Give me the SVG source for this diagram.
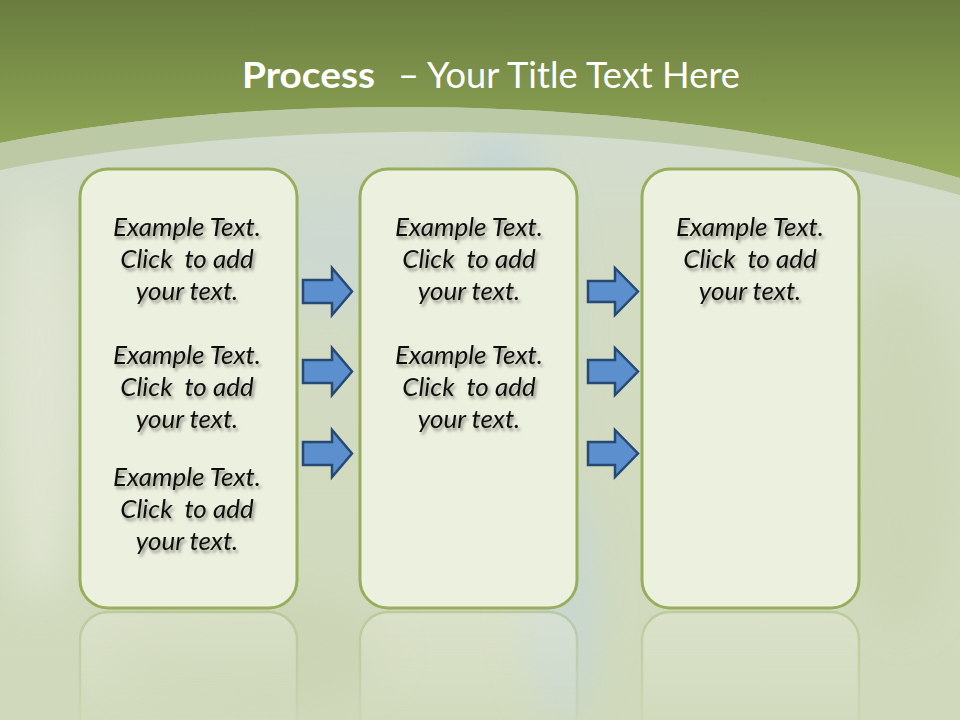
<svg xmlns="http://www.w3.org/2000/svg" width="960" height="720" viewBox="0 0 960 720">
  <defs>
    <linearGradient id="topGreen" x1="0" y1="0" x2="0" y2="1">
      <stop offset="0" stop-color="#6a7d3f"/>
      <stop offset="1" stop-color="#9ab25c"/>
    </linearGradient>
    <linearGradient id="bodyBg" x1="0" y1="0" x2="0" y2="1">
      <stop offset="0" stop-color="#d2dcd6"/>
      <stop offset="0.4" stop-color="#d3dbc3"/>
      <stop offset="1" stop-color="#d0d9bb"/>
    </linearGradient>
    <linearGradient id="fadeGrad" x1="0" y1="0" x2="0" y2="1">
      <stop offset="0" stop-color="#fff" stop-opacity="0.9"/>
      <stop offset="1" stop-color="#fff" stop-opacity="0.15"/>
    </linearGradient>
    <mask id="fadeMask" maskUnits="userSpaceOnUse" x="0" y="600" width="960" height="120">
      <rect x="0" y="600" width="960" height="120" fill="url(#fadeGrad)"/>
    </mask>
    <filter id="blur" x="-50%" y="-50%" width="200%" height="200%">
      <feGaussianBlur stdDeviation="18"/>
    </filter>
    <filter id="shadow" x="-20%" y="-20%" width="140%" height="160%">
      <feDropShadow dx="2" dy="3" stdDeviation="1.6" flood-color="#4a4a3a" flood-opacity="0.55"/>
    </filter>
    <style>
      .box { fill: #ecf0df; stroke: #98ae5c; stroke-width: 3; }
      .refl { fill: #e4e9d6; stroke: #a9bb7c; stroke-width: 2.5; }
      .arrow { fill: #5b8fce; stroke: #264a74; stroke-width: 2.5; stroke-linejoin: miter; }
      .txt { font-family: Lato, "Open Sans", "DejaVu Sans", sans-serif; font-style: italic; font-size: 26px; fill: #111; text-anchor: middle; white-space: pre; }
      .title { font-family: Lato, "Open Sans", "DejaVu Sans", sans-serif; font-size: 36px; fill: #ffffff; }
    </style>
  </defs>

  <!-- background -->
  <rect x="0" y="0" width="960" height="720" fill="url(#bodyBg)"/>
  <g filter="url(#blur)" opacity="0.55">
    <ellipse cx="500" cy="330" rx="70" ry="200" fill="#bcd0dc"/>
    <ellipse cx="560" cy="600" rx="40" ry="120" fill="#c2d4de"/>
    <ellipse cx="330" cy="250" rx="90" ry="60" fill="#c9d7d9"/>
    <ellipse cx="40" cy="400" rx="40" ry="200" fill="#e8ecdf"/>
    <ellipse cx="900" cy="450" rx="60" ry="180" fill="#c9d3b0"/>
    <ellipse cx="250" cy="650" rx="140" ry="60" fill="#c8d2b0"/>
  </g>

  <!-- top green header with arc -->
  <path d="M0,0 H960 V200 L960,178 C650,88 250,92 0,143 Z" fill="url(#topGreen)"/>
  <path d="M0,143 C250,92 650,88 960,178 L960,195 C650,110 250,120 0,170 Z" fill="#b7c59c" opacity="0.85"/>

  <!-- title -->
  <text class="title" x="242" y="88" font-weight="bold" textLength="133" lengthAdjust="spacingAndGlyphs">Process</text>
  <text class="title" x="398" y="88" textLength="342" lengthAdjust="spacingAndGlyphs">– Your Title Text Here</text>

  <!-- reflections -->
  <g mask="url(#fadeMask)" opacity="0.6">
    <rect class="refl" x="80" y="612" width="217" height="300" rx="28"/>
    <rect class="refl" x="360" y="612" width="217" height="300" rx="28"/>
    <rect class="refl" x="642" y="612" width="217" height="300" rx="28"/>
  </g>

  <!-- nodes -->
  <g id="node1">
    <rect class="box" x="80" y="169" width="217" height="439" rx="28"/>
    <g filter="url(#shadow)">
      <text class="txt" x="187" y="236">Example Text.</text>
      <text class="txt" x="187" y="268">Click  to add</text>
      <text class="txt" x="187" y="300">your text.</text>
      <text class="txt" x="187" y="364">Example Text.</text>
      <text class="txt" x="187" y="396">Click  to add</text>
      <text class="txt" x="187" y="428">your text.</text>
      <text class="txt" x="187" y="486">Example Text.</text>
      <text class="txt" x="187" y="518">Click  to add</text>
      <text class="txt" x="187" y="550">your text.</text>
    </g>
  </g>
  <g id="node2">
    <rect class="box" x="360" y="169" width="217" height="439" rx="28"/>
    <g filter="url(#shadow)">
      <text class="txt" x="469" y="236">Example Text.</text>
      <text class="txt" x="469" y="268">Click  to add</text>
      <text class="txt" x="469" y="300">your text.</text>
      <text class="txt" x="469" y="364">Example Text.</text>
      <text class="txt" x="469" y="396">Click  to add</text>
      <text class="txt" x="469" y="428">your text.</text>
    </g>
  </g>
  <g id="node3">
    <rect class="box" x="642" y="169" width="217" height="439" rx="28"/>
    <g filter="url(#shadow)">
      <text class="txt" x="750" y="236">Example Text.</text>
      <text class="txt" x="750" y="268">Click  to add</text>
      <text class="txt" x="750" y="300">your text.</text>
    </g>
  </g>

  <!-- connectors -->
  <g id="connectors">
    <polygon class="arrow" points="303,280 332,280 332,268 352,291.5 332,315 332,303 303,303"/>
    <polygon class="arrow" points="303,360 332,360 332,348 352,371.5 332,395 332,383 303,383"/>
    <polygon class="arrow" points="303,442 332,442 332,430 352,453.5 332,477 332,465 303,465"/>
    <polygon class="arrow" points="588,281 615,281 615,268 638,291.5 615,315 615,302 588,302"/>
    <polygon class="arrow" points="588,360 615,360 615,348 638,371.5 615,395 615,383 588,383"/>
    <polygon class="arrow" points="588,442 615,442 615,430 638,453.5 615,477 615,465 588,465"/>
  </g>
</svg>
